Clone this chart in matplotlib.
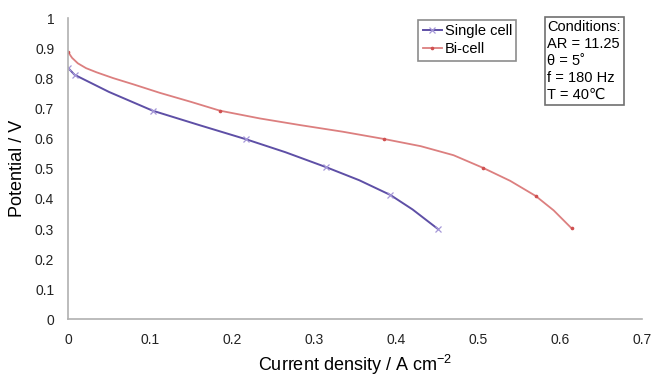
import numpy as np
import matplotlib
matplotlib.use("Agg")
import matplotlib.pyplot as plt

plt.rcParams['font.family'] = ['Liberation Sans', 'DejaVu Sans']
plt.rcParams['mathtext.default'] = 'regular'

# single cell polarisation data
single_x = [0.0, 0.008, 0.05, 0.103, 0.16, 0.217, 0.265, 0.315, 0.355, 0.393, 0.42, 0.451]
single_y = [0.835, 0.812, 0.755, 0.693, 0.645, 0.598, 0.555, 0.505, 0.462, 0.413, 0.365, 0.300]
single_marks = [0, 1, 3, 5, 7, 9, 11]

# bi-cell polarisation data
bi_x = [0.0, 0.005, 0.012, 0.022, 0.035, 0.055, 0.08, 0.112, 0.15, 0.185, 0.234, 0.283,
        0.335, 0.385, 0.43, 0.47, 0.506, 0.539, 0.570, 0.592, 0.614]
bi_y = [0.888, 0.868, 0.850, 0.834, 0.820, 0.801, 0.780, 0.752, 0.722, 0.693, 0.667, 0.645,
        0.623, 0.599, 0.575, 0.545, 0.503, 0.460, 0.410, 0.362, 0.302]
bi_marks = [0, 9, 13, 16, 18, 20]

xticks = [0, 0.1, 0.2, 0.3, 0.4, 0.5, 0.6, 0.7]
yticks = [0, 0.1, 0.2, 0.3, 0.4, 0.5, 0.6, 0.7, 0.8, 0.9, 1]

conditions = "Conditions:\nAR = 11.25\nθ = 5˚\nf = 180 Hz\nT = 40℃"

fig = plt.figure(figsize=(6.54, 3.78), dpi=100)
ax = fig.add_axes([0.104, 0.155, 0.878, 0.797])

ax.plot(single_x, single_y, color='#5e4fa6', lw=1.4, marker='x', ms=5,
        mec='#a597d8', mew=0.9, markevery=single_marks, label='Single cell')
ax.plot(bi_x, bi_y, color='#dc7f7f', lw=1.3, marker='o', ms=1.6,
        mfc='#d05050', mec='#d05050', markevery=bi_marks, label='Bi-cell')

ax.set_xlim(0, 0.7)
ax.set_ylim(0, 1)
ax.set_xticks(xticks)
ax.set_xticklabels([f"{v:g}" for v in xticks])
ax.set_yticks(yticks)
ax.set_yticklabels([f"{v:g}" for v in yticks])
ax.tick_params(length=0, labelsize=10, pad=10, labelcolor='#222222')

for s in ['top', 'right']:
    ax.spines[s].set_visible(False)
for s in ['left', 'bottom']:
    ax.spines[s].set_color('#b0b0b0')
    ax.spines[s].set_linewidth(1.2)

ax.set_xlabel("Current density / A cm$^{-2}$", fontsize=13, labelpad=4)
ax.set_ylabel("Potential / V", fontsize=13, labelpad=6)

leg = ax.legend(loc='upper left', bbox_to_anchor=(0.61, 0.995), fontsize=10.5,
                frameon=True, fancybox=False, edgecolor='#707070',
                handlelength=1.3, handletextpad=0.2, borderpad=0.3,
                labelspacing=0.3, borderaxespad=0.0)
leg.get_frame().set_linewidth(1.2)

ax.text(0.835, 0.995, conditions, transform=ax.transAxes, fontsize=10.5,
        va='top', ha='left', linespacing=1.28,
        bbox=dict(boxstyle='square,pad=0.18', fc='white', ec='#707070', lw=1.2))

fig.savefig("out.png", dpi=100)
